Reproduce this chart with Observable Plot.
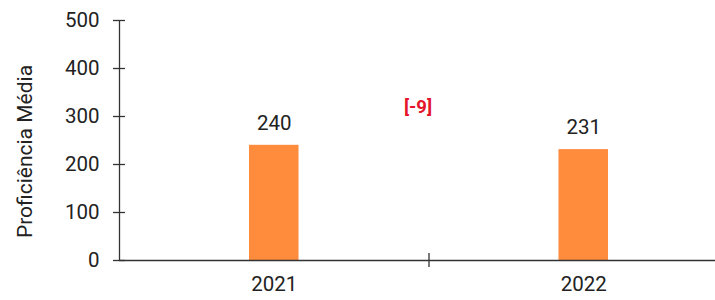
<!DOCTYPE html>
<html>
<head>
<meta charset="utf-8">
<script src="https://cdn.jsdelivr.net/npm/d3@7"></script>
<script src="https://cdn.jsdelivr.net/npm/@observablehq/plot@0.6"></script>
<style>
  html, body { margin: 0; padding: 0; background: #fff; }
</style>
</head>
<body>
<div id="chart"></div>
<script>
const years = ["2021", "2022"];
const values = [240, 231];
const yTicks = [0, 100, 200, 300, 400, 500];
const yLabel = "Proficiência Média";

const data = years.map((year, i) => ({year, pos: i + 0.5, value: values[i]}));
const diff = values[1] - values[0];
const ink = "#222";

const chart = Plot.plot({
  width: 715,
  height: 300,
  marginLeft: 119,
  marginRight: 0,
  marginTop: 20,
  marginBottom: 40,
  style: {fontFamily: "Roboto, sans-serif", fontSize: "20px", color: ink, background: "#fff"},
  x: {type: "linear", domain: [0, 2], range: [119, 738], axis: null},
  y: {domain: [0, 500], axis: null},
  marks: [
    Plot.rectY(data, {x1: d => d.pos - 0.08, x2: d => d.pos + 0.08, y: "value", fill: "#ff8b3d"}),
    Plot.ruleX([0], {stroke: "#333", strokeWidth: 1.3}),
    Plot.ruleY([0], {stroke: "#333", strokeWidth: 1.3}),
    Plot.tickY(yTicks, {y: d => d, stroke: "#333", strokeWidth: 1.3, insetLeft: -6, insetRight: 715 - 125}),
    Plot.tickX([1], {x: d => d, stroke: "#333", strokeWidth: 1.3, insetTop: 233, insetBottom: -7}),
    Plot.axisY(yTicks, {tickSize: 0, tickPadding: 20, fill: ink, fontSize: 20.5, label: null}),
    Plot.axisX(data.map(d => d.pos), {tickSize: 0, tickPadding: 16, fill: ink, fontSize: 20.5, label: null,
      tickFormat: p => years[Math.floor(p)]}),
    Plot.text(data, {x: "pos", y: "value", text: d => String(d.value), dy: -22, fill: ink, fontSize: 20.5}),
    Plot.text([`[${diff}]`], {x: 1, y: 320, dx: -11, fill: "#e3152b", fontWeight: "bold", fontSize: 18.5}),
    Plot.text([yLabel], {frameAnchor: "left", rotate: -90, textAnchor: "middle", dx: -94, dy: 11, fill: ink, fontSize: 21})
  ]
});
document.getElementById("chart").append(chart);
</script>
</body>
</html>
